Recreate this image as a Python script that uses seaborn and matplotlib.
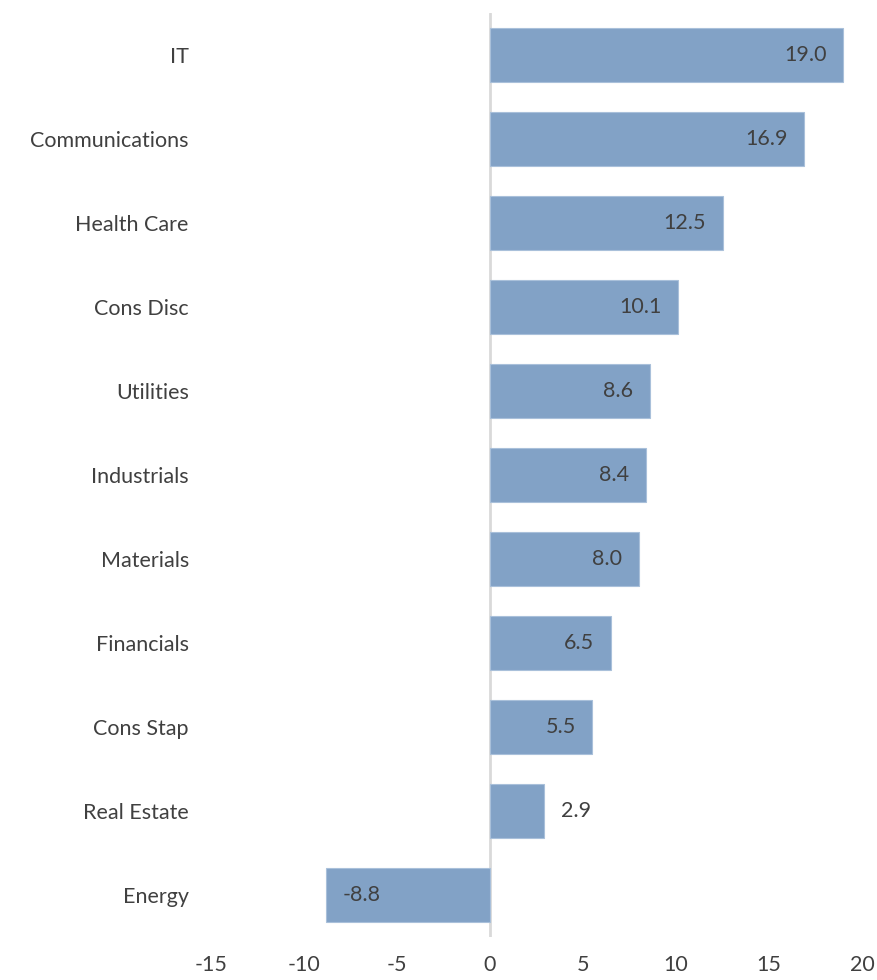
import matplotlib
matplotlib.use("Agg")
import matplotlib.pyplot as plt
import seaborn as sns
import pandas as pd

sectors = ["IT", "Communications", "Health Care", "Cons Disc", "Utilities",
           "Industrials", "Materials", "Financials", "Cons Stap", "Real Estate", "Energy"]
returns = [19.0, 16.9, 12.5, 10.1, 8.6, 8.4, 8.0, 6.5, 5.5, 2.9, -8.8]
x_ticks = [-15, -10, -5, 0, 5, 10, 15, 20]

sns.set_theme(style="white")
plt.rcParams["font.family"] = ["Lato", "DejaVu Sans"]

text_color = "#404040"
bar_color = "#82A2C6"

df = pd.DataFrame({"sector": sectors, "ret": returns})

fig = plt.figure(figsize=(8.78, 9.8), dpi=100)
ax = fig.add_axes([0.2403, 0.0439, 0.7415, 0.9428])

sns.barplot(data=df, x="ret", y="sector", orient="h", color=bar_color,
            saturation=1, width=0.65, edgecolor="#A9C0DA", linewidth=0.8,
            ax=ax, zorder=2)

ax.axvline(0, color="#D9D9D9", lw=2, zorder=1)

ax.set_xlim(-15, 20)
ax.set_ylim(len(sectors) - 0.5, -0.5)
ax.set_xticks(x_ticks)
ax.set_xticklabels([str(t) for t in x_ticks])
ax.set_xlabel("")
ax.set_ylabel("")
ax.tick_params(axis="both", length=0, labelsize=15.5, colors=text_color)
ax.tick_params(axis="x", pad=13)
ax.tick_params(axis="y", pad=16)
for s in ax.spines.values():
    s.set_visible(False)
ax.grid(False)

# value labels: inside the bar end, or just outside for short bars
pad_pts = 12
for i, v in enumerate(returns):
    inside = abs(v) >= 4
    sign = 1 if v >= 0 else -1
    if inside:
        off = -sign * pad_pts
        ha = "right" if v >= 0 else "left"
    else:
        off = sign * pad_pts
        ha = "left" if v >= 0 else "right"
    ax.annotate(f"{v:.1f}", xy=(v, i), xytext=(off, 0), textcoords="offset points",
                ha=ha, va="center", fontsize=15.5, color=text_color, zorder=3)

fig.savefig("out.png", dpi=100)
